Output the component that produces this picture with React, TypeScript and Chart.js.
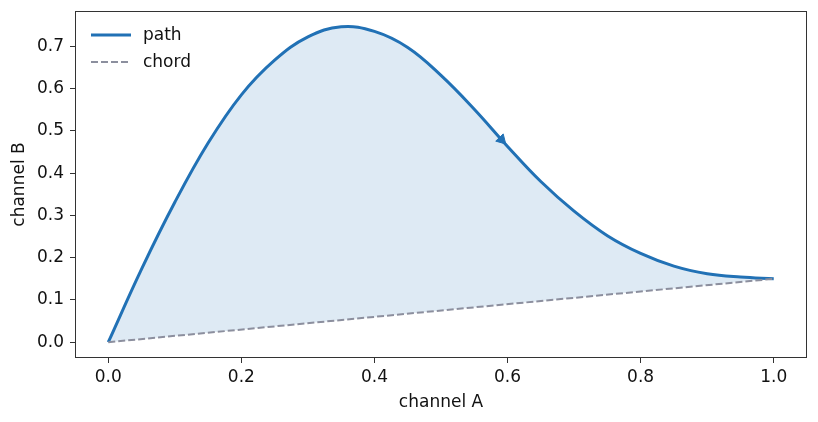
import { Chart, registerables } from "chart.js";
import { useEffect, useRef } from "react";

Chart.register(...registerables);

// path
const pathX = [0, 0.05, 0.1, 0.15, 0.2, 0.25, 0.3, 0.35, 0.4, 0.45, 0.5, 0.55, 0.6, 0.65, 0.7, 0.75, 0.8, 0.85, 0.9, 0.95, 1.0];
const pathY = [0, 0.173, 0.331, 0.471, 0.585, 0.667, 0.722, 0.746, 0.735, 0.697, 0.631, 0.551, 0.463, 0.38, 0.31, 0.252, 0.21, 0.18, 0.162, 0.154, 0.15];

const chordX = [0, 1];
const chordY = [0, 0.15];

// arrow head on the path
const arrowX = [0.591];
const arrowY = [0.479];

const xTicks = [0, 0.2, 0.4, 0.6, 0.8, 1.0];
const yTicks = [0, 0.1, 0.2, 0.3, 0.4, 0.5, 0.6, 0.7];
const xBounds = [-0.05, 1.05];
const yBounds = [-0.0373, 0.7833];

const FONT = "DejaVu Sans";
const TEXT = "#111111";
const BLUE = "#2171b5";
const GREY = "#8c8f9e";

const framePlugin = {
  id: "frame",
  afterDraw(chart: any) {
    const { ctx, chartArea: a } = chart;
    ctx.save();
    ctx.strokeStyle = "#333333";
    ctx.lineWidth = 1;
    ctx.strokeRect(a.left + 0.5, a.top + 0.5, a.right - a.left - 1, a.bottom - a.top - 1);
    ctx.restore();
  },
};

const legendPlugin = {
  id: "insideLegend",
  afterDraw(chart: any) {
    const { ctx, chartArea: a } = chart;
    const rows = chart.data.datasets.filter((ds: any) => ds.label);
    ctx.save();
    rows.forEach((ds: any, i: number) => {
      const y = a.top + 24 + i * 27;
      ctx.beginPath();
      ctx.strokeStyle = ds.borderColor;
      ctx.lineWidth = ds.borderWidth;
      ctx.setLineDash(ds.borderDash || []);
      ctx.moveTo(a.left + 16, y);
      ctx.lineTo(a.left + 56, y);
      ctx.stroke();
      ctx.setLineDash([]);
      ctx.fillStyle = TEXT;
      ctx.font = `17px "${FONT}"`;
      ctx.textBaseline = "middle";
      ctx.fillText(ds.label, a.left + 68, y + 1);
    });
    ctx.restore();
  },
};

const App = () => {
  const canvasRef = useRef<HTMLCanvasElement>(null);

  useEffect(() => {
    const ctx = canvasRef.current?.getContext("2d");
    if (!ctx) {
      return;
    }

    const chart = new Chart(ctx, {
      type: "line",
      data: {
        datasets: [
          {
            label: "path",
            data: pathX.map((x, i) => ({ x, y: pathY[i] })),
            borderColor: BLUE,
            borderWidth: 3,
            pointRadius: 0,
            tension: 0.4,
            fill: "+1",
            backgroundColor: "rgba(33, 113, 181, 0.15)",
            order: 2,
          },
          {
            label: "chord",
            data: chordX.map((x, i) => ({ x, y: chordY[i] })),
            borderColor: GREY,
            borderWidth: 2,
            borderDash: [7, 3],
            pointRadius: 0,
            fill: false,
            order: 1,
          },
          {
            label: "",
            data: arrowX.map((x, i) => ({ x, y: arrowY[i] })),
            showLine: false,
            pointStyle: "triangle",
            pointRadius: 6,
            rotation: 136,
            pointBackgroundColor: BLUE,
            pointBorderColor: BLUE,
            pointBorderWidth: 1,
            order: 0,
          },
        ],
      },
      options: {
        animation: false,
        responsive: false,
        layout: { padding: { left: 0, top: 11, right: 11, bottom: 0 } },
        plugins: {
          legend: { display: false },
          tooltip: { enabled: false },
        },
        scales: {
          x: {
            type: "linear",
            min: xBounds[0],
            max: xBounds[1],
            afterBuildTicks: (scale: any) => {
              scale.ticks = xTicks.map((value) => ({ value }));
            },
            afterFit: (scale: any) => {
              scale.height = 64;
              scale.paddingLeft = 0;
              scale.paddingRight = 0;
            },
            ticks: {
              callback: (v: any) => Number(v).toFixed(1),
              font: { family: FONT, size: 17 },
              color: TEXT,
              padding: 4,
              maxRotation: 0,
            },
            grid: { drawOnChartArea: false, drawTicks: true, tickLength: 5, color: "#333333" },
            border: { display: false },
            title: {
              display: true,
              text: "channel A",
              font: { family: FONT, size: 17 },
              color: TEXT,
              padding: { top: 0, bottom: 9 },
            },
          },
          y: {
            type: "linear",
            min: yBounds[0],
            max: yBounds[1],
            afterBuildTicks: (scale: any) => {
              scale.ticks = yTicks.map((value) => ({ value }));
            },
            afterFit: (scale: any) => {
              scale.width = 75;
              scale.paddingTop = 0;
              scale.paddingBottom = 0;
            },
            ticks: {
              callback: (v: any) => Number(v).toFixed(1),
              font: { family: FONT, size: 17 },
              color: TEXT,
              padding: 6,
            },
            grid: { drawOnChartArea: false, drawTicks: true, tickLength: 5, color: "#333333" },
            border: { display: false },
            title: {
              display: true,
              text: "channel B",
              font: { family: FONT, size: 17 },
              color: TEXT,
              padding: { top: 9, bottom: 0 },
            },
          },
        },
      },
      plugins: [framePlugin, legendPlugin],
    } as any);

    return () => {
      chart.destroy();
    };
  }, []);

  return (
    <div style={{ position: "absolute", left: 0, top: 0, width: 818, height: 422 }}>
      <canvas ref={canvasRef} width={818} height={422} />
    </div>
  );
};

export default App;
